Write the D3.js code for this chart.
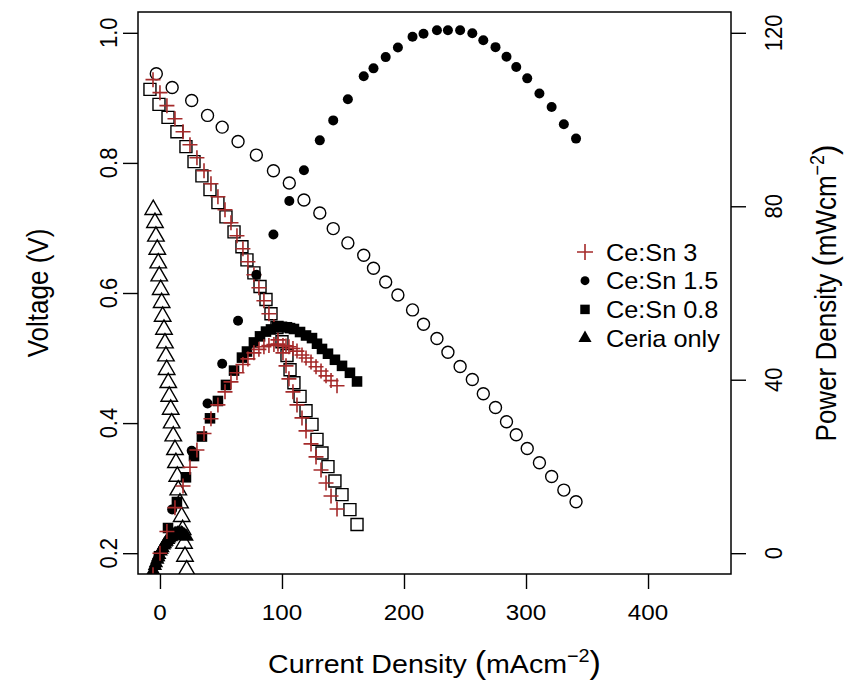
<!DOCTYPE html>
<html>
<head>
<meta charset="utf-8">
<script src="https://cdnjs.cloudflare.com/ajax/libs/d3/7.8.5/d3.min.js"></script>
<style>
body { margin: 0; background: #fff; }
text { font-family: "Liberation Sans", Arial, Helvetica, sans-serif; fill: #000; }
</style>
</head>
<body>
<div id="chart"></div>
<script>

// Ce:Sn 3  (brown +)
const jCeSn3 = [-5.7, 0, 5.7, 12.3, 18.9, 24.6, 30.3, 36.1, 41.8, 47.5, 53.3, 58.2, 63.1, 68.0, 72.1, 77.0, 81.1, 85.2, 89.3, 93.4, 96.7, 100.8, 103.3, 105.7, 109.0, 112.3, 116.4, 119.7, 123.8, 127.9, 132.0, 136.1, 140.2, 145.1]
const vCeSn3 = [0.928, 0.908, 0.888, 0.868, 0.848, 0.828, 0.808, 0.788, 0.768, 0.748, 0.728, 0.708, 0.688, 0.668, 0.648, 0.628, 0.608, 0.588, 0.568, 0.548, 0.528, 0.508, 0.488, 0.468, 0.448, 0.428, 0.408, 0.388, 0.368, 0.348, 0.328, 0.308, 0.288, 0.268]
const pCeSn3 = [-5.0, 0, 5.0, 10.5, 15.5, 19.8, 23.8, 27.6, 31.0, 34.2, 37.2, 39.5, 41.6, 43.5, 44.8, 46.2, 47.0, 47.6, 47.9, 48.1, 48.2, 47.9, 47.8, 47.6, 47.2, 46.6, 45.7, 45.0, 44.1, 43.0, 42.0, 40.9, 39.8, 38.6]

// Ce:Sn 1.5  (circles)
const jCeSn15 = [-3, 10, 26, 39, 51, 64, 79, 93, 106, 118, 131, 142, 154, 167, 175, 185, 195, 207, 216, 227, 236, 246, 256, 265, 275, 284, 292, 301, 311, 321, 331, 341]
const vCeSn15 = [0.937, 0.916, 0.896, 0.873, 0.855, 0.833, 0.812, 0.788, 0.769, 0.743, 0.723, 0.699, 0.677, 0.658, 0.638, 0.617, 0.597, 0.574, 0.552, 0.530, 0.509, 0.487, 0.467, 0.445, 0.424, 0.402, 0.382, 0.361, 0.339, 0.318, 0.297, 0.279]
const pCeSn15 = [-2.8, 10.1, 23.6, 34.5, 43.7, 53.6, 64.2, 73.5, 81.2, 88.3, 95.2, 99.8, 104.7, 110.0, 111.8, 114.4, 116.6, 119.1, 119.8, 120.6, 120.6, 120.6, 119.9, 118.3, 116.7, 114.5, 112.1, 109.5, 106.0, 102.9, 98.9, 95.6]

// Ce:Sn 0.8  (squares)
const jCeSn08 = [-8.2, -0.8, 6.6, 13.9, 21.3, 27.9, 34.4, 41.0, 47.5, 54.1, 60.7, 67.2, 71.3, 77.0, 82.0, 86.9, 91.0, 95.9, 100.0, 104.1, 106.6, 109.8, 114.8, 119.7, 124.6, 128.7, 132.8, 137.7, 143.4, 149.2, 155.7, 161.5]
const vCeSn08 = [0.913, 0.890, 0.870, 0.848, 0.825, 0.802, 0.780, 0.759, 0.739, 0.717, 0.694, 0.671, 0.651, 0.631, 0.610, 0.590, 0.568, 0.547, 0.525, 0.504, 0.482, 0.462, 0.441, 0.419, 0.398, 0.375, 0.354, 0.333, 0.311, 0.290, 0.267, 0.244]
const pCeSn08 = [-7.5, -0.7, 5.8, 11.8, 17.5, 22.4, 26.9, 31.1, 35.1, 38.8, 42.1, 45.1, 46.5, 48.6, 50.0, 51.1, 51.6, 52.1, 52.2, 52.1, 51.9, 51.7, 51.0, 50.2, 49.6, 48.3, 47.1, 46.0, 44.6, 43.2, 41.6, 39.6]

// Ceria only  (triangles)
const jCeria = [-5.5, -4.1, -3.3, -2.2, -1.4, -0.6, 0.6, 1.4, 2.2, 3.3, 4.1, 4.9, 5.5, 6.8, 7.6, 8.8, 9.6, 10.9, 12.3, 13.1, 14.2, 15.0, 16.4, 17.8, 18.6, 19.7, 20.5, 21.9]
const vCeria = [0.728, 0.708, 0.687, 0.667, 0.646, 0.626, 0.605, 0.585, 0.564, 0.544, 0.523, 0.503, 0.482, 0.462, 0.441, 0.421, 0.400, 0.380, 0.359, 0.339, 0.318, 0.297, 0.277, 0.256, 0.236, 0.215, 0.195, 0.174]
const pCeria = [-4.0, -2.9, -2.3, -1.5, -0.9, -0.4, 0.4, 0.8, 1.2, 1.8, 2.1, 2.5, 2.7, 3.1, 3.4, 3.7, 3.8, 4.1, 4.4, 4.4, 4.5, 4.5, 4.5, 4.6, 4.4, 4.2, 4.0, 3.8]

const legendLabels = ["Ce:Sn 3", "Ce:Sn 1.5", "Ce:Sn 0.8", "Ceria only"]
const xTicks = [0, 100, 200, 300, 400]
const vTicks = [0.2, 0.4, 0.6, 0.8, 1.0]
const pTicks = [0, 40, 80, 120]

const width = 844
const height = 685
const plot = {left: 138, right: 731, top: 12, bottom: 574}
const sx = 1.1   // the source picture is a little stretched sideways
const brown = "#a52a2a"

const svg = d3.select('#chart')
    .append("svg")
    .attr("width", width)
    .attr("height", height)

// R style: data range padded by 4% each side
const x = d3.scaleLinear().domain([-18, 468]).range([plot.left, plot.right])
const yV = d3.scaleLinear().domain([0.168, 1.032]).range([plot.bottom, plot.top])
const yP = d3.scaleLinear().domain([-4.8, 124.8]).range([plot.bottom, plot.top])

svg.append("clipPath").attr("id", "clip")
    .append("rect")
    .attr("x", plot.left).attr("y", plot.top)
    .attr("width", plot.right - plot.left).attr("height", plot.bottom - plot.top)

// axes (ticks only, labels drawn below)
function styleAxis(g) {
    g.select(".domain").remove()
    g.selectAll(".tick line").attr("stroke", "#000").attr("stroke-width", 1.4)
    g.selectAll(".tick text").remove()
}

svg.append("g")
    .attr("transform", "translate(0," + plot.bottom + ")")
    .call(d3.axisBottom(x).tickValues(xTicks).tickSize(15))
    .call(styleAxis)

svg.append("g")
    .attr("transform", "translate(" + plot.left + ",0)")
    .call(d3.axisLeft(yV).tickValues(vTicks).tickSize(15))
    .call(styleAxis)

svg.append("g")
    .attr("transform", "translate(" + plot.right + ",0)")
    .call(d3.axisRight(yP).tickValues(pTicks).tickSize(15))
    .call(styleAxis)

svg.append("g").selectAll("text")
    .data(xTicks).enter().append("text")
    .attr("transform", d => "translate(" + x(d) + ",620) scale(" + sx + ",1)")
    .attr("text-anchor", "middle")
    .style("font-size", "22px")
    .text(d => d)

svg.append("g").selectAll("text")
    .data(vTicks).enter().append("text")
    .attr("transform", d => "translate(117," + yV(d) + ") scale(" + sx + ",1) rotate(-90)")
    .attr("text-anchor", "middle")
    .style("font-size", "22px")
    .text(d => d3.format(".1f")(d))

svg.append("g").selectAll("text")
    .data(pTicks).enter().append("text")
    .attr("transform", d => "translate(782," + yP(d) + ") scale(" + sx + ",1) rotate(-90)")
    .attr("text-anchor", "middle")
    .style("font-size", "22px")
    .text(d => d)

// axis titles
const xt = svg.append("text")
    .attr("transform", "translate(" + ((plot.left + plot.right) / 2) + ",673) scale(" + sx + ",1)")
    .attr("text-anchor", "middle")
    .style("font-size", "26px")
xt.append("tspan").text("Current Density ")
xt.append("tspan").style("font-size", "31px").text("(")
xt.append("tspan").text("mAcm")
xt.append("tspan").attr("dy", -11).style("font-size", "18px").text("\u22122")
xt.append("tspan").attr("dy", 11).style("font-size", "31px").text(")")

svg.append("text")
    .attr("transform", "translate(48," + ((plot.top + plot.bottom) / 2) + ") scale(" + sx + ",1) rotate(-90)")
    .attr("text-anchor", "middle")
    .style("font-size", "26px")
    .text("Voltage (V)")

const yt = svg.append("text")
    .attr("transform", "translate(836," + ((plot.top + plot.bottom) / 2) + ") scale(" + sx + ",1) rotate(-90)")
    .attr("text-anchor", "middle")
    .style("font-size", "26px")
yt.append("tspan").text("Power Density ")
yt.append("tspan").style("font-size", "31px").text("(")
yt.append("tspan").text("mWcm")
yt.append("tspan").attr("dy", -11).style("font-size", "18px").text("\u22122")
yt.append("tspan").attr("dy", 11).style("font-size", "31px").text(")")

// markers
const shapes = {
    circle: d3.symbolCircle,
    square: d3.symbolSquare,
    triangle: d3.symbolTriangle
}

function plusPath(h) {
    return "M" + (-h) + ",0H" + h + "M0," + (-h) + "V" + h
}

function drawSeries(J, Y, yScale, kind, filled, size) {
    const g = svg.append("g").attr("clip-path", "url(#clip)")
    const pts = g.selectAll("path")
        .data(d3.zip(J, Y))
        .enter()
        .append("path")
        .attr("transform", d => "translate(" + x(d[0]) + "," + yScale(d[1]) + ")")
    if (kind == "plus") {
        pts.attr("d", plusPath(size))
            .attr("fill", "none")
            .attr("stroke", brown)
            .attr("stroke-width", 1.6)
    } else {
        pts.attr("d", d3.symbol(shapes[kind], size))
        if (filled) pts.attr("fill", "#000")
        else pts.attr("fill", "none").attr("stroke", "#000").attr("stroke-width", 1.4)
    }
}

// voltage (open symbols)
drawSeries(jCeria, vCeria, yV, "triangle", false, 118)
drawSeries(jCeSn15, vCeSn15, yV, "circle", false, Math.PI * 36)
drawSeries(jCeSn08, vCeSn08, yV, "square", false, 144)
drawSeries(jCeSn3, vCeSn3, yV, "plus", false, 7.5)

// power (filled symbols)
drawSeries(jCeria, pCeria, yP, "triangle", true, 90)
drawSeries(jCeSn15, pCeSn15, yP, "circle", true, Math.PI * 25)
drawSeries(jCeSn08, pCeSn08, yP, "square", true, 112)
drawSeries(jCeSn3, pCeSn3, yP, "plus", true, 7.5)

// box
svg.append("rect")
    .attr("x", plot.left).attr("y", plot.top)
    .attr("width", plot.right - plot.left).attr("height", plot.bottom - plot.top)
    .attr("fill", "none")
    .attr("stroke", "#000")
    .attr("stroke-width", 1.5)

// legend
const legendKinds = ["plus", "circle", "square", "triangle"]
const legendSizes = [8, Math.PI * 20, 90, 75]
const leg = svg.append("g").attr("transform", "translate(585,252)")
legendLabels.forEach(function (lab, i) {
    const row = leg.append("g").attr("transform", "translate(0," + (i * 28.7) + ")")
    if (legendKinds[i] == "plus") {
        row.append("path").attr("d", plusPath(legendSizes[i]))
            .attr("stroke", brown).attr("stroke-width", 1.6).attr("fill", "none")
    } else {
        row.append("path").attr("d", d3.symbol(shapes[legendKinds[i]], legendSizes[i]))
            .attr("fill", "#000")
    }
    row.append("text")
        .attr("transform", "translate(21,8.5) scale(" + sx + ",1)")
        .style("font-size", "23px")
        .text(lab)
})

</script>
</body>
</html>
